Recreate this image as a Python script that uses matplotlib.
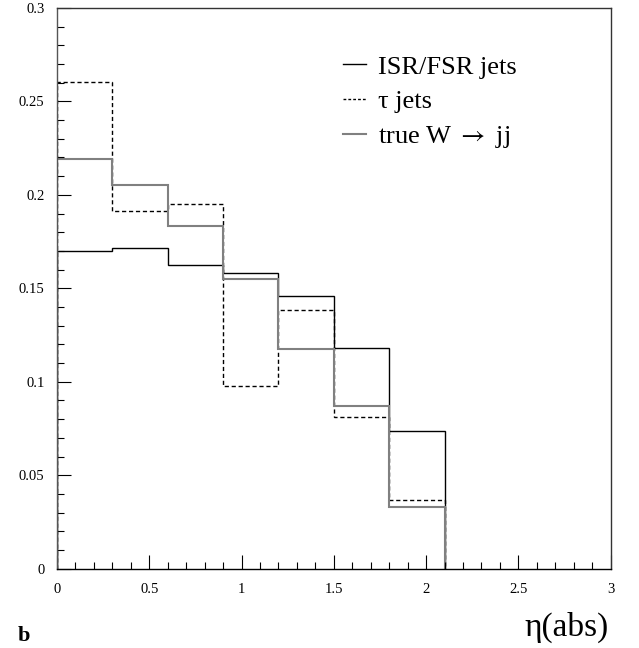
import matplotlib
matplotlib.use("Agg")
import matplotlib.pyplot as plt
import numpy as np
from matplotlib.ticker import MultipleLocator, FuncFormatter

plt.rcParams['font.family'] = ['Liberation Serif', 'DejaVu Serif']
plt.rcParams['mathtext.fontset'] = 'stix'

edges = [0.0, 0.3, 0.6, 0.9, 1.2, 1.5, 1.8, 2.1]
isr_fsr = [0.170, 0.1716, 0.1625, 0.158, 0.146, 0.118, 0.0736]
tau = [0.2605, 0.1915, 0.1952, 0.0975, 0.1384, 0.0814, 0.0366]
true_w = [0.219, 0.2055, 0.1832, 0.1552, 0.1175, 0.087, 0.0329]
labels = ['ISR/FSR jets', 'τ jets', 'true W $\\rightarrow$ jj']

fig = plt.figure(figsize=(6.39, 6.48), dpi=100)
ax = fig.add_axes([0.0892, 0.1224, 0.8665, 0.8653])

ax.stairs(isr_fsr, edges, color='black', lw=1.0, baseline=0, label=labels[0])
ax.stairs(tau, edges, color='black', lw=1.0, ls=(0, (3, 2)), baseline=0, label=labels[1])
ax.stairs(true_w, edges, color='#808080', lw=1.5, baseline=0, label=labels[2])

ax.set_xlim(0, 3)
ax.set_ylim(0, 0.3)
ax.xaxis.set_major_locator(MultipleLocator(0.5))
ax.xaxis.set_minor_locator(MultipleLocator(0.1))
ax.yaxis.set_major_locator(MultipleLocator(0.05))
ax.yaxis.set_minor_locator(MultipleLocator(0.01))

def fmt(v, pos):
    s = ('%.2f' % v).rstrip('0').rstrip('.')
    return s if s else '0'
ax.xaxis.set_major_formatter(FuncFormatter(fmt))
ax.yaxis.set_major_formatter(FuncFormatter(fmt))

ax.tick_params(which='both', direction='in', top=False, right=False, labelsize=10.5, width=0.8)
ax.tick_params(which='major', length=10)
ax.tick_params(which='minor', length=5)
ax.tick_params(axis='x', which='major', pad=10.5)
ax.tick_params(axis='y', which='major', pad=9)

for sp in ax.spines.values():
    sp.set_linewidth(1.0)
    sp.set_color('#333333')
ax.spines['left'].set_color('#555555')
ax.spines['bottom'].set_color('black')

leg = ax.legend(loc='upper left', bbox_to_anchor=(0.516, 0.916), frameon=False,
                fontsize=19, handlelength=0.9, handletextpad=0.45, labelspacing=0.42,
                borderpad=0, borderaxespad=0)
leg.get_lines()[1].set_linestyle((0, (2, 1.5)))

fig.text(0.953, 0.0185, 'η(abs)', ha='right', va='baseline', fontsize=24)
fig.text(0.028, 0.0108, 'b', ha='left', va='baseline', fontsize=16, fontweight='bold')

fig.savefig('out.png', dpi=100)
